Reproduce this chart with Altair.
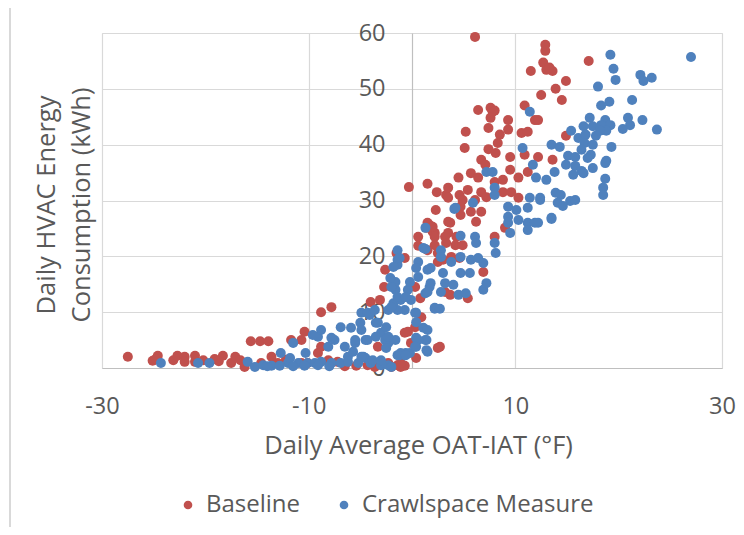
import altair as alt
import pandas as pd

# ---- data ----
series_names = ["Baseline", "Crawlspace Measure"]
series_colors = ["#C0504D", "#4F81BD"]
x_ticks = [-30, -10, 10, 30]
y_ticks = [0, 10, 20, 30, 40, 50, 60]

baseline_x = [
    -27.5, -25.1, -24.6, -24.8, -23.1, -22.7, -22.0, -22.0, -21.0, -21.0, -20.2, -19.1, -18.3, -18.7,
    -17.5, -17.1, -16.6, -16.2, -15.6, -14.7, -13.9, -14.6, -13.6, -13.0, -11.7, -10.7, -10.4, -10.7,
    -10.1, -12.2, -8.8, -7.2, -6.5, -3.6, -2.0, -1.1, -0.1, 0.4, -0.4, -8.8, -7.8, -4.0, -3.1, -1.5,
    -0.7, -2.6, -2.7, 0.3, 0.8, 0.9, 0.3, -0.7, 2.7, -1.4, -0.7, 1.4, 1.7, 2.2, 2.2, 0.6, 2.5, -9.1,
    -8.1, -3.3, -4.3, -5.4, -2.3, -1.1, -0.3, 1.5, 2.4, 2.3, 3.3, 3.5, 1.5, 2.0, 0.6, 3.5, 4.3, 4.6,
    4.7, 5.2, 5.1, 6.4, 7.8, 9.3, 7.4, 8.5, 9.3, 10.6, 11.2, 7.4, 8.3, 8.1, 9.5, 10.9, 12.2, 13.6,
    6.7, 5.7, 7.1, 9.5, 10.3, 11.2, 4.5, 3.5, 6.4, 8.0, 8.8, 5.4, 6.7, 4.9, 6.1, 7.2, 8.8, 9.6, 10.3,
    3.5, 4.7, 5.7, 6.7, 6.2, 3.7, 2.0, 2.2, 3.2, 8.0, 3.3, 4.2, 4.9, 1.5, 2.5, 3.0, 3.8, 4.6, 6.9,
    3.2, 3.7, 5.4, 2.5, 9.0, 6.1, 12.9, 12.9, 12.7, 11.5, 13.0, 13.6, 13.3, 13.9, 12.5, 10.9, 11.9,
    7.6, 8.0, 7.6, 17.1, 14.9, 14.5, 14.9, 12.2,
]
baseline_y = [
    2.0, 1.3, 2.2, 1.6, 1.4, 2.2, 2.0, 1.1, 2.2, 1.1, 1.4, 1.6, 2.2, 1.2,
    0.9, 2.0, 1.4, 0.2, 4.8, 4.8, 4.8, 0.9, 2.0, 0.9, 5.0, 5.0, 6.5, 0.9,
    0.9, 1.5, 3.8, 1.1, 0.3, 0.2, 0.2, 0.2, 4.5, 1.8, 6.5, 10.0, 10.9, 11.8, 12.2, 20.6,
    19.7, 17.6, 14.5, 14.5, 12.5, 9.1, 7.3, 6.3, 3.8, 0.5, 0.4, 25.1, 25.6, 24.2, 22.0, 21.9, 19.0, 2.7,
    1.4, 3.8, 0.5, 0.4, 0.9, 0.9, 32.4, 33.0, 31.5, 28.3, 31.0, 26.2, 26.0, 24.4, 23.5, 24.2, 23.5, 31.0,
    28.9, 42.3, 39.4, 46.2, 45.9, 44.4, 43.0, 41.8, 42.7, 42.1, 42.3, 39.2, 40.3, 38.5, 37.8, 38.2, 37.8, 37.3,
    37.3, 34.9, 36.4, 35.5, 34.1, 35.1, 34.1, 32.3, 34.1, 33.3, 33.7, 31.9, 31.5, 30.1, 30.1, 30.6, 31.5, 31.5, 30.5,
    30.5, 27.4, 28.0, 28.0, 26.2, 26.0, 25.3, 23.5, 23.5, 23.5, 22.4, 22.0, 22.0, 21.1, 20.6, 19.4, 19.9, 19.7, 17.2,
    13.6, 13.1, 12.5, 3.6, 25.1, 59.3, 57.9, 56.8, 54.7, 53.2, 53.4, 53.2, 53.8, 50.0, 48.9, 47.0, 44.4,
    46.6, 46.1, 44.8, 55.0, 51.4, 48.0, 41.6, 44.4,
]

crawl_x = [
    -24.3, -20.7, -19.6, -15.9, -15.2, -14.4, -13.6, -12.7, -12.0, -11.8, -11.5, -11.0, -10.1, -10.3,
    -9.4, -8.8, -8.1, -7.8, -6.9, -6.2, -5.2, -4.5, -4.0, -3.0, -2.3, -1.2, -0.7, -2.3, -1.6, -6.5,
    -5.5, -4.5, -7.5, -9.1, -8.8, -9.6, -7.8, -6.9, -5.9, -4.9, -4.1, -5.0, -3.5, -2.3, -1.8, -1.6,
    -1.6, -1.4, -1.4, -2.1, -0.4, -0.1, -1.1, -0.7, -1.4, 0.4, 1.1, 0.4, 1.4, 1.5, 0.4, -0.6, -1.4,
    1.3, 1.1, 0.6, 0.4, 1.5, 1.3, 1.7, 2.2, -5.7, -4.7, -3.8, -6.2, -9.1, -10.4, -3.0, -2.6, -2.5,
    4.1, 1.3, -1.4, -1.2, -1.8, -2.0, -1.4, -2.0, -0.6, -0.2, 0.6, 0.3, 0.4, 1.3, 1.4, -1.1, -0.2,
    -4.3, -3.6, -3.3, -4.9, -5.5, -4.3, -3.5, -2.3, -2.5, -4.9, -3.0, -2.0, -8.0, -11.5, -14.0, -12.8,
    0.6, 0.3, -0.6,
    11.4, 10.7, 11.7, 13.5, 13.8, 12.0, 13.0, 7.2, 7.8, 8.0, 8.0, 5.9, 4.2, 11.4, 12.4, 13.9, 9.3,
    10.1, 11.2, 9.3, 10.3, 11.2, 11.9, 9.3, 11.2, 9.5, 13.5, 4.7, 6.1, 6.2, 8.0, 8.1, 2.8, 2.8, 3.8,
    4.7, 5.7, 6.4, 6.9, 1.8, 3.0, 4.7, 5.6, 1.8, 3.2, 4.0, 1.5, 2.8, 4.5, 5.2, 6.9, 7.2, 2.2, 2.7, 1.5,
    19.2, 19.5, 19.7, 27.0, 22.1, 22.4, 23.2, 18.0, 21.3, 19.1, 18.3, 17.2, 20.9, 22.3, 21.1, 20.4,
    23.7, 18.7, 19.2, 18.3, 17.5, 18.8, 15.4, 16.6, 16.1, 16.8, 17.8, 18.2, 16.7, 17.5, 19.3, 16.4,
    17.3, 14.3, 15.1, 15.8, 17.0, 17.5, 18.8, 18.7, 14.9, 15.8, 16.4, 15.6, 16.6, 18.7, 18.5, 18.5,
    14.4, 15.3, 15.8, 14.1, 14.6, 12.4, 13.5, 12.2,
]
crawl_y = [
    0.9, 0.9, 0.9, 1.1, 0.2, 0.5, 0.4, 2.7, 0.9, 1.8, 4.5, 0.9, 0.9, 2.7,
    0.9, 1.1, 3.8, 0.9, 0.9, 2.0, 0.9, 1.8, 0.9, 0.5, 0.5, 2.3, 2.3, 4.5, 5.0, 3.8,
    4.5, 5.0, 5.0, 5.6, 6.8, 5.9, 5.4, 7.3, 7.2, 9.9, 9.5, 8.1, 8.1, 10.4, 11.6, 14.0,
    15.4, 18.5, 19.4, 16.1, 14.0, 12.2, 12.2, 10.4, 10.4, 9.9, 7.2, 5.4, 5.0, 2.9, 3.8, 2.7, 2.3,
    25.1, 21.5, 19.0, 17.9, 17.6, 13.4, 14.5, 10.8, 2.9, 2.0, 1.4, 1.1, 0.5, 0.4, 6.3, 5.0, 7.3,
    28.5, 21.3, 21.1, 19.7, 18.1, 14.5, 12.7, 10.9, 12.7, 15.4, 16.3, 9.9, 8.2, 5.0, 3.2, 2.7, 2.7,
    9.9, 10.4, 8.1, 6.8, 5.0, 5.0, 5.6, 5.6, 3.6, 2.0, 1.4, 0.2, 0.3, 0.3, 0.3, 0.4,
    5.0, 3.8, 2.3,
    45.9, 39.4, 36.4, 40.0, 35.1, 34.1, 33.7, 35.1, 35.1, 32.3, 31.0, 29.6, 28.7, 30.5, 30.5, 31.4, 28.9,
    28.3, 28.7, 27.1, 26.5, 26.0, 26.0, 26.0, 24.7, 24.2, 26.9, 23.7, 23.5, 22.4, 22.4, 20.6, 21.1, 19.9, 19.0,
    19.9, 19.4, 19.7, 18.8, 17.9, 17.0, 17.0, 17.0, 15.2, 15.2, 14.9, 13.6, 13.6, 13.1, 13.4, 14.0, 15.2, 10.6, 10.6, 6.8,
    56.1, 53.6, 51.6, 55.7, 52.5, 51.4, 52.0, 50.4, 48.0, 47.7, 47.0, 44.8, 44.8, 44.4, 43.5, 42.8,
    42.7, 44.4, 43.5, 43.5, 43.3, 42.5, 42.5, 43.3, 41.2, 41.8, 41.6, 42.5, 40.3, 40.0, 39.6, 39.1,
    38.2, 39.6, 38.0, 37.8, 37.6, 35.8, 37.1, 36.7, 36.4, 36.2, 35.3, 34.6, 34.9, 33.9, 32.3, 31.0,
    31.0, 29.9, 30.1, 29.6, 29.0, 30.1, 26.7, 26.0,
]

# ---- table ----
df = pd.DataFrame({
    "x": baseline_x + crawl_x,
    "y": baseline_y + crawl_y,
    "series": [series_names[0]] * len(baseline_x) + [series_names[1]] * len(crawl_x),
})
df["order"] = range(len(df))

W, H = 620, 335
TEXT = "#595959"
GRID = "#d9d9d9"
AXIS = "#bfbfbf"

points = alt.Chart(df).mark_circle(size=100, opacity=1).encode(
    x=alt.X("x:Q",
            scale=alt.Scale(domain=[-30, 30], nice=False, zero=False),
            axis=alt.Axis(values=x_ticks, title="Daily Average OAT-IAT (°F)",
                          labelExpr="'' + datum.value", labelFlush=False,
                          grid=True, gridColor=GRID, ticks=False,
                          domainColor=AXIS, labelPadding=26,
                          titleX=W / 2 + 6, titleY=85, titleBaseline="alphabetic",
                          titleAnchor="middle", titleAlign="center")),
    y=alt.Y("y:Q",
            scale=alt.Scale(domain=[0, 60], nice=False),
            axis=alt.Axis(values=y_ticks, title=["Daily HVAC Energy", "Consumption  (kWh)"],
                          labelExpr="'' + datum.value", labelFlush=False,
                          grid=True, gridColor=GRID, ticks=False, offset=-W / 2,
                          domainColor=AXIS, labelPadding=27,
                          titleAngle=270, titleBaseline="top", titleAlign="center",
                          titleX=-W / 2 - 68, titleY=H / 2 + 4, titleLineHeight=35)),
    color=alt.Color("series:N",
                    scale=alt.Scale(domain=series_names, range=series_colors),
                    legend=alt.Legend(title=None, orient="none", direction="horizontal",
                                      legendX=74, legendY=460, symbolType="circle",
                                      symbolSize=75, symbolStrokeWidth=0,
                                      labelFontSize=24, labelColor=TEXT, labelOffset=6,
                                      labelLimit=0, columnPadding=31, padding=0)),
    order=alt.Order("order:Q"),
)

frame_left = alt.Chart(df).mark_rule(color=GRID, strokeWidth=1.5).encode(
    x=alt.value(-92), y=alt.value(-28), y2=alt.value(H + 200))
frame_top = alt.Chart(df).mark_rule(color=GRID, strokeWidth=1.5).encode(
    x=alt.value(-92), x2=alt.value(W + 100), y=alt.value(-28))

chart = alt.layer(frame_left, frame_top, points).properties(
    width=W, height=H,
    autosize=alt.AutoSizeParams(type="none"),
    padding={"left": 94, "top": 25, "right": 14, "bottom": 159},
).configure(
    font="Open Sans",
).configure_view(
    stroke=GRID,
).configure_axis(
    labelFontSize=23.5, labelColor=TEXT, titleFontSize=25.5, titleColor=TEXT,
    titleFontWeight="normal", domainWidth=1.2, gridWidth=1.2,
)

chart.save("out.html", embed_options={"renderer": "svg", "actions": False})
